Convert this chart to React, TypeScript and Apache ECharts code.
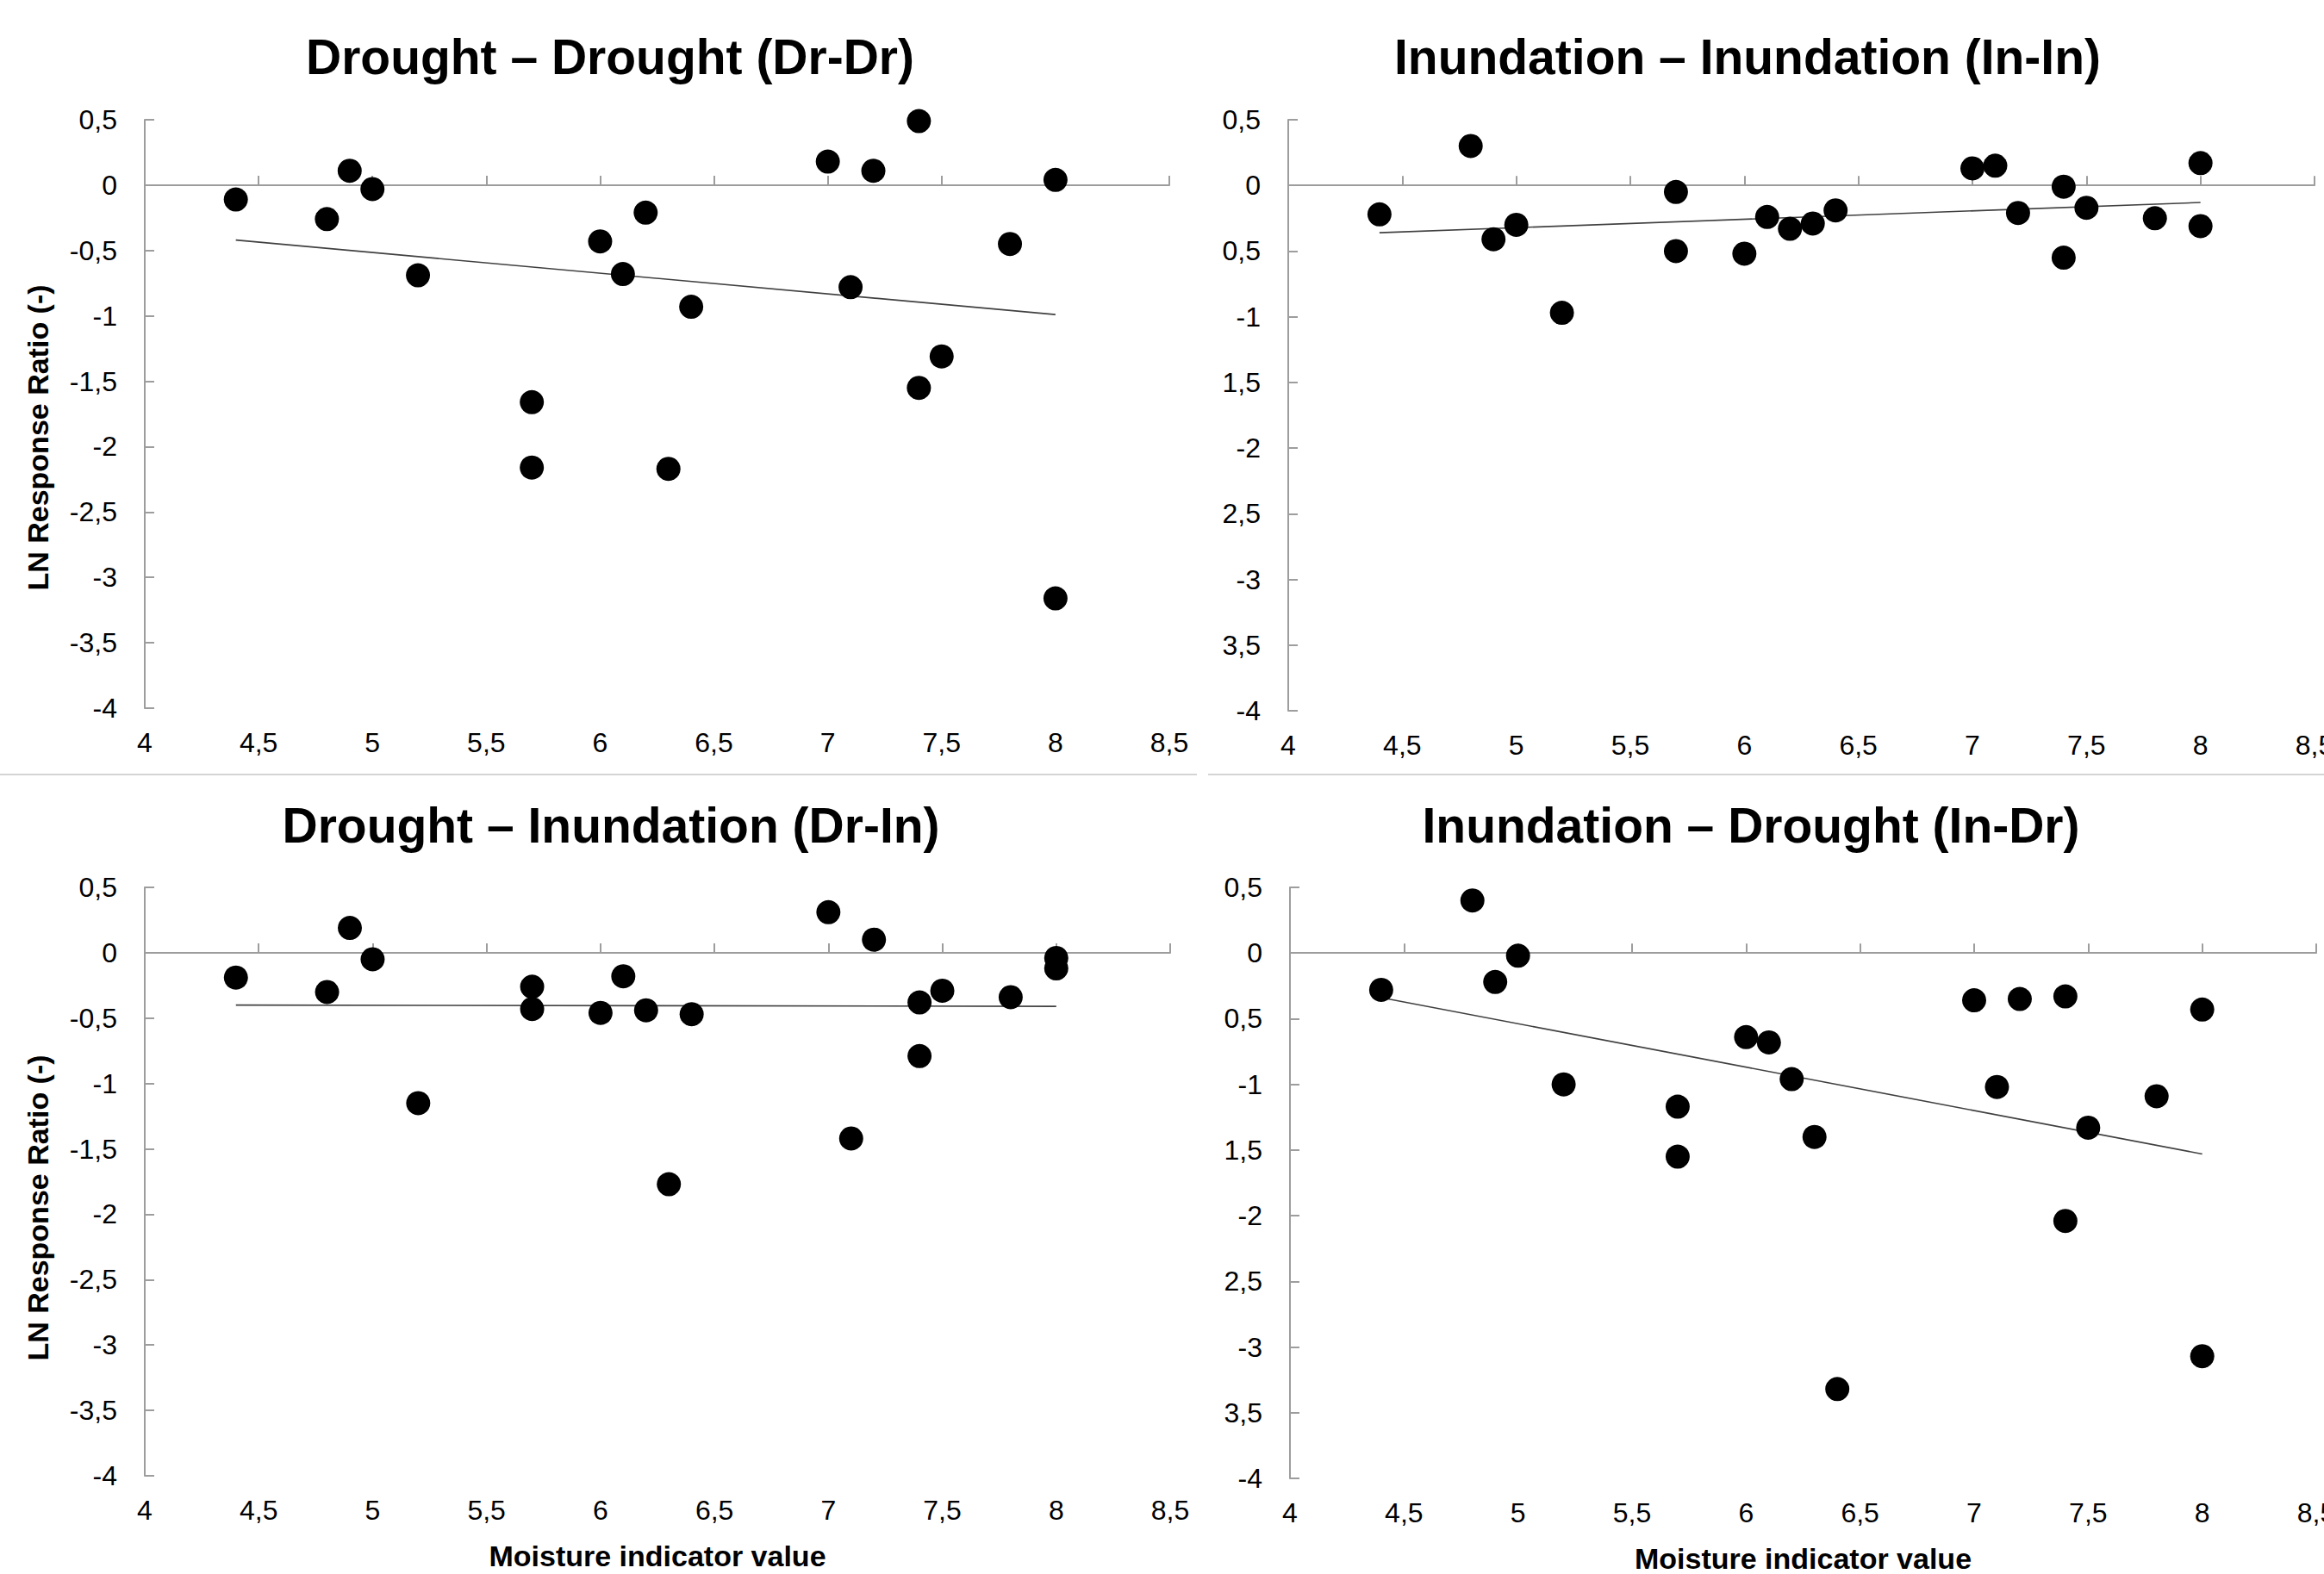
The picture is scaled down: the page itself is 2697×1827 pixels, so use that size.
import React, { useEffect, useRef } from "react";
import * as echarts from "echarts";

// ---- Data ----
const moistureValues = [4.4, 4.8, 4.9, 5.0, 5.2, 5.7, 5.7, 6.0, 6.1, 6.2, 6.3, 6.4, 7.0, 7.1, 7.2, 7.4, 7.4, 7.5, 7.8, 8.0, 8.0];

const drDrValues = [-0.11, -0.26, 0.11, -0.03, -0.69, -1.66, -2.16, -0.43, -0.68, -0.21, -2.17, -0.93, 0.18, -0.78, 0.11, 0.49, -1.55, -1.31, -0.45, 0.04, -3.16];
const inInValues = [-0.22, 0.30, -0.41, -0.30, -0.97, -0.05, -0.50, -0.52, -0.24, -0.33, -0.29, -0.19, 0.13, 0.15, -0.21, -0.01, -0.55, -0.17, -0.25, 0.17, -0.31];
const drInValues = [-0.19, -0.30, 0.19, -0.05, -1.15, -0.26, -0.43, -0.46, -0.18, -0.44, -1.77, -0.47, 0.31, -1.42, 0.10, -0.38, -0.79, -0.29, -0.34, -0.04, -0.12];
const inDrValues = [-0.28, 0.40, -0.22, -0.02, -1.00, -1.17, -1.55, -0.64, -0.68, -0.96, -1.40, -3.32, -0.36, -1.02, -0.35, -0.33, -2.04, -1.33, -1.09, -0.43, -3.07];

// trendline end points (x at 4.4 and 8.0)
const trendX = [4.4, 8.0];
const trendDrDr = [-0.42, -0.99];
const trendInIn = [-0.36, -0.13];
const trendDrIn = [-0.40, -0.41];
const trendInDr = [-0.34, -1.53];

const xTickLabels = ["4", "4,5", "5", "5,5", "6", "6,5", "7", "7,5", "8", "8,5"];
const yTickLabelsLeft = ["-4", "-3,5", "-3", "-2,5", "-2", "-1,5", "-1", "-0,5", "0", "0,5"];
const yTickLabelsRight = ["-4", "3,5", "-3", "2,5", "-2", "1,5", "-1", "0,5", "0", "0,5"];

const panelTitles = [
  "Drought \u2013 Drought (Dr-Dr)",
  "Inundation \u2013 Inundation (In-In)",
  "Drought \u2013 Inundation (Dr-In)",
  "Inundation \u2013 Drought (In-Dr)",
];
const yAxisTitle = "LN Response Ratio (-)";
const xAxisTitle = "Moisture indicator value";

// ---- Layout ----
const FONT = '"Liberation Sans", Arial, Helvetica, sans-serif';
const AXIS_COLOR = "#9d9d9d";

const panels = [
  { grid: { left: 168, top: 139, width: 1189, height: 683 }, values: drDrValues, trend: trendDrDr, yLabels: yTickLabelsLeft, title: { x: 708, y: 66 }, yName: { x: 44, y: 508 }, xName: false },
  { grid: { left: 1495, top: 139, width: 1191, height: 686 }, values: inInValues, trend: trendInIn, yLabels: yTickLabelsRight, title: { x: 2028, y: 66 }, yName: null, xName: false },
  { grid: { left: 168, top: 1030, width: 1190, height: 683 }, values: drInValues, trend: trendDrIn, yLabels: yTickLabelsLeft, title: { x: 709, y: 958 }, yName: { x: 44, y: 1402 }, xName: true },
  { grid: { left: 1497, top: 1030, width: 1191, height: 686 }, values: inDrValues, trend: trendInDr, yLabels: yTickLabelsRight, title: { x: 2032, y: 958 }, yName: null, xName: true },
];

function buildOption() {
  const grid: any[] = [];
  const xAxis: any[] = [];
  const yAxis: any[] = [];
  const series: any[] = [];
  const graphic: any[] = [];

  panels.forEach((p, i) => {
    grid.push({ ...p.grid, containLabel: false, outerBoundsMode: "none" });

    // label axis at the bottom
    xAxis.push({
      gridIndex: i,
      type: "value",
      min: 4,
      max: 8.5,
      interval: 0.5,
      position: "bottom",
      axisLine: { show: false, onZero: false },
      axisTick: { show: false },
      splitLine: { show: false },
      axisLabel: {
        show: true,
        showMinLabel: true,
        showMaxLabel: true,
        margin: 24,
        fontSize: 32,
        fontFamily: FONT,
        color: "#000",
        formatter: (v: number) => xTickLabels[Math.round((v - 4) / 0.5)] ?? "",
      },
      name: p.xName ? xAxisTitle : "",
      nameLocation: "middle",
      nameGap: 76,
      nameTextStyle: { fontSize: 34, fontWeight: "bold", fontFamily: FONT, color: "#000" },
    });
    // zero line axis with upward ticks
    xAxis.push({
      gridIndex: i,
      type: "value",
      min: 4,
      max: 8.5,
      interval: 0.5,
      position: "bottom",
      axisLine: { show: true, onZero: true, lineStyle: { color: AXIS_COLOR, width: 2 } },
      axisTick: { show: true, inside: true, length: 11, lineStyle: { color: AXIS_COLOR, width: 2 } },
      axisLabel: { show: false },
      splitLine: { show: false },
    });

    yAxis.push({
      gridIndex: i,
      type: "value",
      min: -4,
      max: 0.5,
      interval: 0.5,
      axisLine: { show: true, onZero: false, lineStyle: { color: AXIS_COLOR, width: 2 } },
      axisTick: { show: true, inside: true, length: 11, lineStyle: { color: AXIS_COLOR, width: 2 } },
      splitLine: { show: false },
      axisLabel: {
        show: true,
        showMinLabel: true,
        showMaxLabel: true,
        margin: 32,
        fontSize: 32,
        fontFamily: FONT,
        color: "#000",
        formatter: (v: number) => p.yLabels[Math.round((v + 4) / 0.5)] ?? "",
      },
    });

    series.push({
      type: "line",
      xAxisIndex: i * 2,
      yAxisIndex: i,
      data: trendX.map((x, k) => [x, p.trend[k]]),
      symbol: "none",
      showSymbol: false,
      silent: true,
      lineStyle: { color: "#404040", width: 1.6 },
      z: 2,
    });
    series.push({
      type: "scatter",
      xAxisIndex: i * 2,
      yAxisIndex: i,
      data: moistureValues.map((x, k) => [x, p.values[k]]),
      symbol: "circle",
      symbolSize: 28,
      itemStyle: { color: "#000", opacity: 1 },
      z: 3,
    });

    graphic.push({
      type: "text",
      x: p.title.x,
      y: p.title.y,
      style: {
        text: panelTitles[i],
        textAlign: "center",
        textVerticalAlign: "middle",
        fontSize: 57,
        fontWeight: "bold",
        fontFamily: FONT,
        fill: "#000",
      },
    });
    if (p.yName) {
      graphic.push({
        type: "text",
        x: p.yName.x,
        y: p.yName.y,
        rotation: Math.PI / 2,
        style: {
          text: yAxisTitle,
          textAlign: "center",
          textVerticalAlign: "middle",
          fontSize: 34,
          fontWeight: "bold",
          fontFamily: FONT,
          fill: "#000",
        },
      });
    }
  });

  // panel separator lines
  graphic.push({ type: "line", shape: { x1: 0, y1: 899, x2: 1389, y2: 899 }, style: { stroke: "#d4d4d4", lineWidth: 2 } });
  graphic.push({ type: "line", shape: { x1: 1402, y1: 899, x2: 2697, y2: 899 }, style: { stroke: "#d4d4d4", lineWidth: 2 } });

  return {
    animation: false,
    backgroundColor: "#ffffff",
    grid,
    xAxis,
    yAxis,
    series,
    graphic,
  };
}

export default function App() {
  const ref = useRef<HTMLDivElement>(null);
  useEffect(() => {
    if (!ref.current) return;
    const chart = echarts.init(ref.current, undefined, { renderer: "svg" });
    chart.setOption(buildOption() as any);
    return () => chart.dispose();
  }, []);
  return (
    <div
      ref={ref}
      style={{ position: "absolute", left: 0, top: 0, width: 2697, height: 1827, background: "#fff" }}
    />
  );
}
